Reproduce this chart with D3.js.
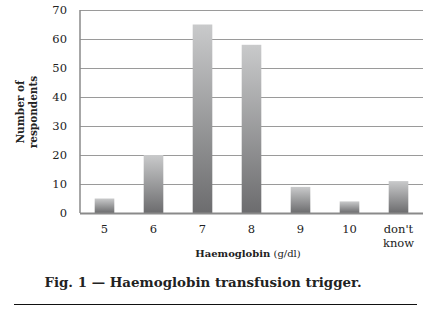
<!DOCTYPE html>
<html>
<head>
<meta charset="utf-8">
<script src="https://cdn.jsdelivr.net/npm/d3@7"></script>
<style>
  body { margin: 0; background: #fff; }
  text { font-family: "DejaVu Serif", "Liberation Serif", serif; fill: #222; }
</style>
</head>
<body>
<div id="root"></div>
<script>
var categories = ["5", "6", "7", "8", "9", "10", "don't know"];
var respondents = [5, 20, 65, 58, 9, 4, 11];
var yTicks = [0, 10, 20, 30, 40, 50, 60, 70];

window.onload = function () {
    var width = 431, height = 312;
    var margin = { left: 80, right: 8, top: 10, bottom: 99 };

    var svg = d3.select("#root").append("svg")
        .attr("width", width)
        .attr("height", height);

    // bar gradient, light on top, dark at bottom
    var grad = svg.append("defs").append("linearGradient")
        .attr("id", "barGrad")
        .attr("x1", 0).attr("y1", 0).attr("x2", 0).attr("y2", 1);
    grad.append("stop").attr("offset", "0%").attr("stop-color", "#c9cacb");
    grad.append("stop").attr("offset", "100%").attr("stop-color", "#6c6c6e");

    var x = d3.scaleBand()
        .domain(categories)
        .range([margin.left, width - margin.right])
        .paddingInner(0.6)
        .paddingOuter(0.3);
    var y = d3.scaleLinear()
        .domain([0, 70])
        .range([height - margin.bottom, margin.top]);

    // gridlines
    svg.append("g").selectAll("line")
        .data(yTicks.slice(1))
        .enter().append("line")
        .attr("x1", margin.left).attr("x2", width - margin.right)
        .attr("y1", function (d) { return y(d) + 0.5; })
        .attr("y2", function (d) { return y(d) + 0.5; })
        .style("stroke", "#9a9a9a")
        .style("stroke-width", 1.2);

    // y tick labels
    svg.append("g").selectAll("text")
        .data(yTicks)
        .enter().append("text")
        .attr("x", margin.left - 13)
        .attr("y", function (d) { return y(d); })
        .attr("dy", "0.35em")
        .attr("text-anchor", "end")
        .style("font-size", "11.5px")
        .text(function (d) { return d; });

    // bars
    svg.append("g").selectAll("rect")
        .data(respondents)
        .enter().append("rect")
        .attr("x", function (d, i) { return x(categories[i]); })
        .attr("width", x.bandwidth())
        .attr("y", function (d) { return y(d); })
        .attr("height", function (d) { return y(0) - y(d); })
        .style("fill", "url(#barGrad)");

    // axis lines
    svg.append("line")
        .attr("x1", margin.left).attr("x2", margin.left)
        .attr("y1", y(70)).attr("y2", y(0))
        .style("stroke", "#8a8a8a").style("stroke-width", 1.5);
    svg.append("line")
        .attr("x1", margin.left).attr("x2", width - margin.right)
        .attr("y1", y(0) + 0.5).attr("y2", y(0) + 0.5)
        .style("stroke", "#8a8a8a").style("stroke-width", 1.8);

    // x labels
    var xl = svg.append("g").selectAll("text")
        .data(categories)
        .enter().append("text")
        .attr("x", function (d) { return x(d) + x.bandwidth() / 2; })
        .attr("y", y(0) + 20)
        .attr("text-anchor", "middle")
        .style("font-size", "11.5px");
    xl.each(function (d) {
        var words = d === "don't know" ? ["don't", "know"] : [d];
        var t = d3.select(this);
        words.forEach(function (w, k) {
            t.append("tspan")
                .attr("x", t.attr("x"))
                .attr("dy", k === 0 ? 0 : "1.25em")
                .text(w);
        });
    });

    // axis titles
    var xt = svg.append("text")
        .attr("x", 248).attr("y", 257)
        .attr("text-anchor", "middle")
        .style("font-size", "10px");
    xt.append("tspan").style("font-weight", "bold").text("Haemoglobin");
    xt.append("tspan").text(" (g/dl)");

    var yt = svg.append("text")
        .attr("transform", "translate(24,112) rotate(-90)")
        .attr("text-anchor", "middle")
        .style("font-size", "10.5px")
        .style("font-weight", "bold");
    yt.append("tspan").attr("x", 0).attr("dy", 0).text("Number of");
    yt.append("tspan").attr("x", 0).attr("dy", "1.2em").text("respondents");

    // caption
    svg.append("text")
        .attr("x", 203).attr("y", 287)
        .attr("text-anchor", "middle")
        .style("font-size", "13.4px")
        .style("font-weight", "bold")
        .text("Fig. 1 \u2014 Haemoglobin transfusion trigger.");

    svg.append("line")
        .attr("x1", 14).attr("x2", 417)
        .attr("y1", 304.5).attr("y2", 304.5)
        .style("stroke", "#111").style("stroke-width", 1);
};
</script>
</body>
</html>
